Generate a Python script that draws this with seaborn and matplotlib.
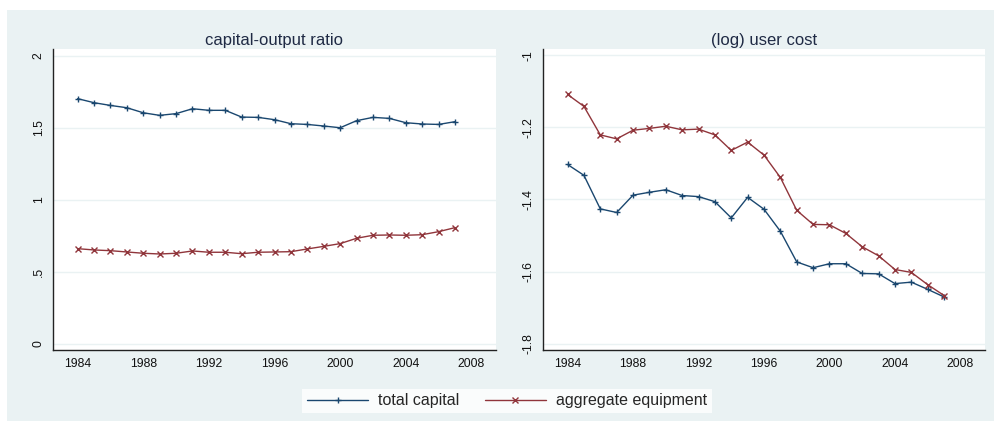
import numpy as np
import pandas as pd
import seaborn as sns
import matplotlib.pyplot as plt
from matplotlib.patches import Rectangle

# Data
years = list(range(1984, 2008))

ky_total = [1.704, 1.676, 1.657, 1.641, 1.606, 1.588, 1.600, 1.634, 1.623, 1.623,
            1.576, 1.574, 1.558, 1.530, 1.525, 1.514, 1.502, 1.551, 1.574, 1.567,
            1.537, 1.528, 1.525, 1.544]
ky_equip = [0.662, 0.653, 0.648, 0.639, 0.630, 0.625, 0.630, 0.646, 0.637, 0.637,
            0.627, 0.637, 0.639, 0.641, 0.660, 0.678, 0.697, 0.734, 0.755, 0.757,
            0.755, 0.759, 0.780, 0.808]

uc_total = [-1.303, -1.333, -1.426, -1.436, -1.388, -1.380, -1.373, -1.389, -1.392, -1.406,
            -1.451, -1.394, -1.427, -1.488, -1.573, -1.589, -1.578, -1.578, -1.605, -1.606,
            -1.633, -1.629, -1.649, -1.670]
uc_equip = [-1.109, -1.142, -1.221, -1.232, -1.208, -1.203, -1.197, -1.207, -1.205, -1.221,
            -1.264, -1.241, -1.277, -1.339, -1.430, -1.469, -1.470, -1.494, -1.531, -1.556,
            -1.594, -1.602, -1.636, -1.666]

series_names = ["total capital", "aggregate equipment"]
x_ticks = [1984, 1988, 1992, 1996, 2000, 2004, 2008]

# Stata s2color look
navy = "#1A476F"
maroon = "#90353B"
bg = "#EAF2F3"

sns.set_style("white")
plt.rcParams['font.family'] = ['Liberation Sans', 'DejaVu Sans']

def long_df(total, equip):
    return pd.DataFrame({
        "year": years * 2,
        "value": total + equip,
        "series": [series_names[0]] * len(years) + [series_names[1]] * len(years),
    })

fig = plt.figure(figsize=(9.95, 4.21), dpi=100)
fig.patch.set_facecolor("white")
fig.patches.append(Rectangle((7 / 995, 0), 1, (421 - 10) / 421, transform=fig.transFigure,
                             facecolor=bg, edgecolor="none", zorder=-10))

ax1 = fig.add_axes([53 / 995, 71 / 421, 443 / 995, 301 / 421])
ax2 = fig.add_axes([543 / 995, 71 / 421, 442 / 995, 301 / 421])

panels = [
    (ax1, long_df(ky_total, ky_equip), "capital-output ratio",
     [0, 0.5, 1, 1.5, 2], ["0", ".5", "1", "1.5", "2"], (-0.042, 2.049)),
    (ax2, long_df(uc_total, uc_equip), "(log) user cost",
     [-1.8, -1.6, -1.4, -1.2, -1], ["-1.8", "-1.6", "-1.4", "-1.2", "-1"], (-1.817, -0.983)),
]

for ax, df, title, yt, ytl, ylim in panels:
    sns.lineplot(data=df, x="year", y="value", hue="series", style="series",
                 palette=[navy, maroon], markers=["+", "x"], dashes=False,
                 markersize=5, linewidth=1.0, ax=ax, legend=False)
    # line-art markers need their edge in the line colour
    for line in ax.lines:
        line.set_markeredgecolor(line.get_color())
        line.set_markeredgewidth(1.0)
    for line, ms in zip(ax.lines, [5, 4]):
        line.set_markersize(ms)
    ax.set_xlim(1982.5, 2009.5)
    ax.set_ylim(*ylim)
    ax.set_xticks(x_ticks)
    ax.set_yticks(yt)
    ax.set_yticklabels(ytl, rotation=90, va="center")
    ax.tick_params(axis="both", direction="out", length=4, width=0.9, colors="#222222",
                   labelsize=8.8, pad=2, labelcolor="#111111")
    ax.yaxis.grid(True, color=bg, linewidth=1)
    ax.set_axisbelow(True)
    ax.set_xlabel("")
    ax.set_ylabel("")
    for side in ["top", "right"]:
        ax.spines[side].set_visible(False)
    for side in ["left", "bottom"]:
        ax.spines[side].set_color("#222222")
        ax.spines[side].set_linewidth(1)
    ax.set_title(title, fontsize=12, color="#1f2a44", pad=3)

handles = [
    plt.Line2D([], [], color=navy, marker="+", markersize=5, markeredgewidth=1.0, linewidth=1.0),
    plt.Line2D([], [], color=maroon, marker="x", markersize=4, markeredgewidth=1.0, linewidth=1.0),
]
leg = fig.legend(handles, series_names, loc="center", bbox_to_anchor=(507 / 995, (421 - 401) / 421),
                 ncol=2, frameon=True, fancybox=False, fontsize=11.5, handlelength=3.8,
                 columnspacing=1.6, borderpad=0.3, handletextpad=0.63)
leg.get_frame().set_facecolor("white")
leg.get_frame().set_edgecolor("white")
leg.get_frame().set_linewidth(0)

fig.savefig("out.png", dpi=100, facecolor=fig.get_facecolor())
